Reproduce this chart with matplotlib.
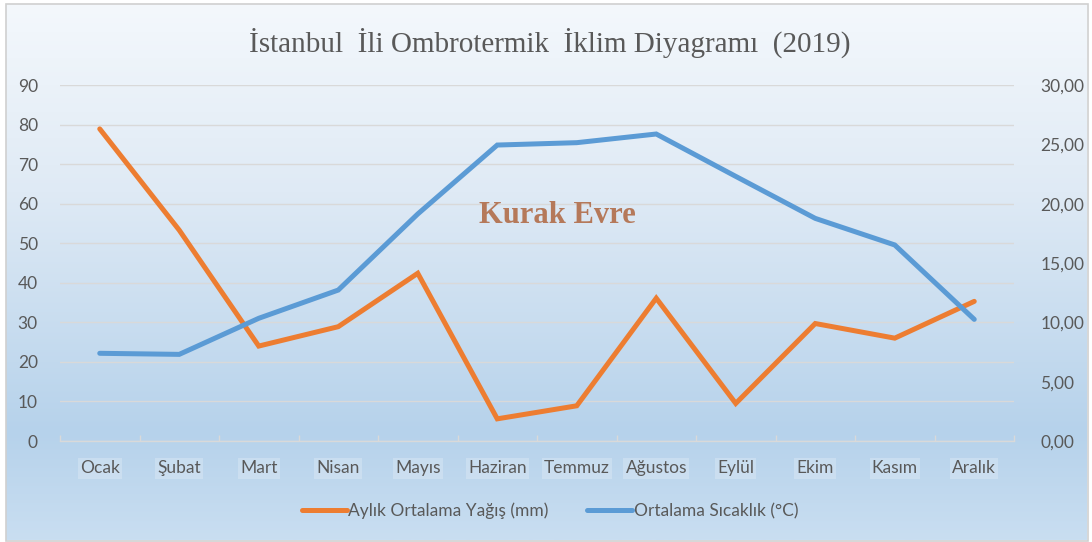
import matplotlib.pyplot as plt
import numpy as np
from matplotlib.colors import LinearSegmentedColormap
from matplotlib.patches import Rectangle

months = ["Ocak", "Şubat", "Mart", "Nisan", "Mayıs", "Haziran", "Temmuz",
          "Ağustos", "Eylül", "Ekim", "Kasım", "Aralık"]
yagis = [78.9, 53.3, 24.0, 28.9, 42.4, 5.6, 8.9, 36.1, 9.5, 29.7, 26.0, 35.3]
sicaklik = [7.39, 7.30, 10.34, 12.72, 19.13, 24.94, 25.14, 25.87, 22.3, 18.76, 16.52, 10.25]
left_ticks = list(range(0, 91, 10))
right_ticks = [0, 5, 10, 15, 20, 25, 30]

tick_font = "Lato"
gray = "#595959"
grid = "#d9d9d9"

fig = plt.figure(figsize=(10.92, 5.42), dpi=100)

# gradient background
bg = fig.add_axes([0, 0, 1, 1], zorder=-10)
cmap = LinearSegmentedColormap.from_list(
    "bg", [(0, "#f4f8fc"), (0.35, "#dfeaf5"), (0.8, "#b6d2eb"), (1.0, "#c9def1")])
grad = np.linspace(0, 1, 256).reshape(-1, 1)
bg.imshow(grad, aspect="auto", cmap=cmap, extent=[6, 1087, 540, 4])
bg.add_patch(Rectangle((5.5, 3.5), 1082, 537, fill=False, edgecolor="#d0d0d0", lw=1.2))
bg.set_xlim(0, 1092)
bg.set_ylim(542, 0)
bg.axis("off")

ax = fig.add_axes([60 / 1092, 1 - 441 / 542, 954 / 1092, 356 / 542])
ax.patch.set_alpha(0)
x = np.arange(len(months))
ax.plot(x, yagis, color="#ed7d31", lw=3.6, solid_joinstyle="miter", solid_capstyle="round",
        label="Aylık Ortalama Yağış (mm)", zorder=3)
ax.set_ylim(0, 90)
ax.set_xlim(-0.5, 11.5)
ax.set_yticks(left_ticks)
ax.yaxis.grid(True, color=grid, lw=1.0)
ax.set_axisbelow(True)
for s in ["top", "right", "left"]:
    ax.spines[s].set_visible(False)
ax.spines["bottom"].set_color(grid)
ax.spines["bottom"].set_linewidth(1.0)
ax.set_xticks(x)
ax.set_xticklabels(months)
ax.set_xticks(np.arange(-0.5, 12, 1), minor=True)
ax.tick_params(axis="x", which="major", length=0, pad=14, labelsize=12.5, labelcolor=gray)
ax.tick_params(axis="x", which="minor", length=4, direction="in", color=grid, width=1)
ax.tick_params(axis="y", length=0, pad=16, labelsize=12.5, labelcolor=gray)
for t in ax.get_xticklabels() + ax.get_yticklabels():
    t.set_fontfamily(tick_font)
for t in ax.get_xticklabels():
    t.set_bbox(dict(facecolor="white", alpha=0.22, edgecolor="none", pad=1.5))

ax2 = ax.twinx()
ax2.plot(x, sicaklik, color="#5b9bd5", lw=3.6, solid_joinstyle="miter", solid_capstyle="round",
         label="Ortalama Sıcaklık (°C)", zorder=3)
ax2.set_ylim(0, 30)
ax2.set_yticks(right_ticks)
ax2.set_yticklabels([f"{v:.2f}".replace(".", ",") for v in right_ticks])
for s in ax2.spines.values():
    s.set_visible(False)
ax2.tick_params(axis="y", length=0, pad=19, labelsize=12.5, labelcolor=gray)
for t in ax2.get_yticklabels():
    t.set_fontfamily(tick_font)

fig.text(557 / 1092, 1 - 216 / 542, "Kurak Evre",
         ha="center", va="center", fontsize=22, fontweight="bold",
         fontfamily="Liberation Serif", color="#b5795a")

fig.text(550 / 1092, 1 - 43 / 542, "İstanbul  İli Ombrotermik  İklim Diyagramı  (2019)",
         ha="center", va="center", fontsize=21, fontfamily="Liberation Serif", color=gray)

h1, l1 = ax.get_legend_handles_labels()
h2, l2 = ax2.get_legend_handles_labels()
leg = fig.legend(h1 + h2, l1 + l2, loc="center", bbox_to_anchor=(550 / 1092, 1 - 511 / 542),
                 ncol=2, frameon=False, handlelength=2.6, handletextpad=0.1, columnspacing=2.2,
                 prop={"family": tick_font, "size": 12.5})
for t in leg.get_texts():
    t.set_color(gray)

fig.savefig("out.png", dpi=100)
